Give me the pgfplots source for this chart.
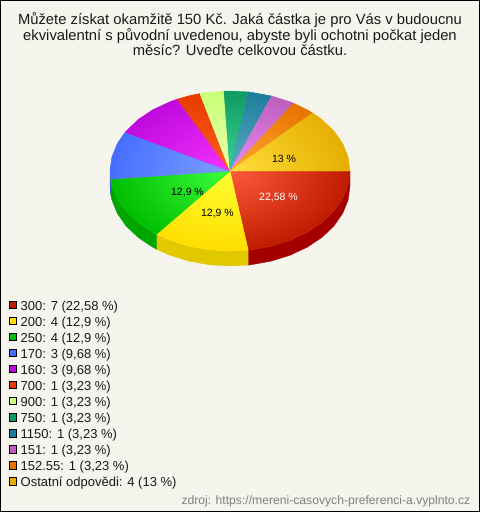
\documentclass[border=0pt]{standalone}
\usepackage{pgfplots}
\usepackage{pgfplotstable}
\pgfplotsset{compat=1.18}
\usepackage{fontspec}
\setmainfont{Liberation Sans}
\newfontfamily\legf{Liberation Sans}
\newfontfamily\ttlf{Liberation Sans}
\definecolor{bgc}{RGB}{245,245,238}
\definecolor{cA}{RGB}{190,28,0}\definecolor{cAl}{RGB}{255,90,58}\definecolor{cAs}{RGB}{165,0,0}
\definecolor{cB}{RGB}{255,222,0}\definecolor{cBl}{RGB}{255,255,50}\definecolor{cBs}{RGB}{225,200,0}
\definecolor{cC}{RGB}{0,190,0}\definecolor{cCl}{RGB}{60,255,60}\definecolor{cCs}{RGB}{0,165,0}
\definecolor{cD}{RGB}{70,110,255}\definecolor{cDl}{RGB}{125,160,255}\definecolor{cDs}{RGB}{55,95,205}
\definecolor{cE}{RGB}{190,10,220}\definecolor{cEl}{RGB}{245,50,255}
\definecolor{cF}{RGB}{232,60,0}\definecolor{cFl}{RGB}{255,92,30}
\definecolor{cG}{RGB}{200,255,120}\definecolor{cGl}{RGB}{235,255,170}
\definecolor{cH}{RGB}{15,155,95}\definecolor{cHl}{RGB}{60,210,150}
\definecolor{cI}{RGB}{30,125,155}\definecolor{cIl}{RGB}{90,175,200}
\definecolor{cJ}{RGB}{190,95,190}\definecolor{cJl}{RGB}{232,140,240}
\definecolor{cK}{RGB}{230,115,0}\definecolor{cKl}{RGB}{255,170,50}
\definecolor{cL}{RGB}{230,175,0}\definecolor{cLl}{RGB}{255,222,60}
\pgfplotstableread{
x y
230 171
350 171
348.18 184.89
342.76 198.36
333.92 211
321.93 222.42
307.13 232.28
290 240.28
271.04 246.18
250.84 249.78
248.17 250.08
}\wA
\pgfplotstableread{
x y
230 171
248.17 250.08
230 251
209.16 249.78
188.96 246.18
170 240.28
156.58 234.28
}\wB
\pgfplotstableread{
x y
230 171
156.58 234.28
152.87 232.28
138.07 222.42
126.08 211
117.24 198.36
111.82 184.89
110.62 179.13
}\wC
\pgfplotstableread{
x y
230 171
110.62 179.13
110 171
111.82 157.11
117.24 143.64
125.07 132.19
}\wD
\pgfplotstableread{
x y
230 171
125.07 132.19
138.07 119.58
152.87 109.72
170 101.72
177.14 99.18
}\wE
\pgfplotstableread{
x y
230 171
177.14 99.18
188.96 95.82
199.94 93.55
}\wF
\pgfplotstableread{
x y
230 171
199.94 93.55
209.16 92.22
223.97 91.10
}\wG
\pgfplotstableread{
x y
230 171
223.97 91.10
230 91
248.25 91.93
}\wH
\pgfplotstableread{
x y
230 171
248.25 91.93
250.84 92.22
271.79 96.01
}\wI
\pgfplotstableread{
x y
230 171
271.79 96.01
290 101.72
293.59 103.16
}\wJ
\pgfplotstableread{
x y
230 171
293.59 103.16
307.13 109.72
312.75 113.06
}\wK
\pgfplotstableread{
x y
230 171
312.75 113.06
321.93 119.58
333.92 131
342.76 143.64
348.18 157.11
350 171
}\wL
\newcommand{\pieslice}[3]{%
\addplot[draw=#2!50!#3,line width=0.3bp,fill=#2!50!#3] table[x=x,y=y] {#1};
\addplot[draw=none,shade,shading=radial,inner color=#3,outer color=#2] table[x=x,y=y] {#1} (axis cs:110,91) (axis cs:350,251);}
\newcommand{\legrow}[4]{%
\addplot[only marks,mark=square*,mark size=3.6bp,mark options={fill=#1,draw=black,line width=1bp}] coordinates {(13,#2)};
\node[anchor=base west,inner sep=0pt,text=black!90] at (axis cs:20.5,#3) {\fontsize{13bp}{16bp}\legf #4};}
\begin{document}
\begin{tikzpicture}
\begin{axis}[scale only axis,width=480bp,height=512bp,xmin=0,xmax=480,ymin=0,ymax=512,y dir=reverse,axis lines=none,clip=false]
\addplot[fill=bgc,draw=black,line width=1bp] coordinates {(0.5,0.5)(479.5,0.5)(479.5,511.5)(0.5,511.5)(0.5,0.5)};
% sides
\addplot[fill=cAs,draw=cAs,line width=0.3bp] coordinates {(350,171)(348.18,184.89)(342.76,198.36)(333.92,211)(321.93,222.42)(307.13,232.28)(290,240.28)(271.04,246.18)(250.84,249.78)(248.17,250.08)(248.17,265.08)(250.84,264.78)(271.04,261.18)(290,255.28)(307.13,247.28)(321.93,237.42)(333.92,226)(342.76,213.36)(348.18,199.89)(350,186)(350,171)};
\addplot[fill=cBs,draw=cBs,line width=0.3bp] coordinates {(248.17,250.08)(230,251)(209.16,249.78)(188.96,246.18)(170,240.28)(156.58,234.28)(156.58,249.28)(170,255.28)(188.96,261.18)(209.16,264.78)(230,266)(248.17,265.08)(248.17,250.08)};
\addplot[fill=cCs,draw=cCs,line width=0.3bp] coordinates {(156.58,234.28)(152.87,232.28)(138.07,222.42)(126.08,211)(117.24,198.36)(111.82,184.89)(110.62,179.13)(110.62,194.13)(111.82,199.89)(117.24,213.36)(126.08,226)(138.07,237.42)(152.87,247.28)(156.58,249.28)(156.58,234.28)};
\addplot[fill=cDs,draw=cDs,line width=0.3bp] coordinates {(110.62,179.13)(110,171)(110,186)(110.62,194.13)(110.62,179.13)};
\pieslice{\wA}{cA}{cAl}
\pieslice{\wB}{cB}{cBl}
\pieslice{\wC}{cC}{cCl}
\pieslice{\wD}{cD}{cDl}
\pieslice{\wE}{cE}{cEl}
\pieslice{\wF}{cF}{cFl}
\pieslice{\wG}{cG}{cGl}
\pieslice{\wH}{cH}{cHl}
\pieslice{\wI}{cI}{cIl}
\pieslice{\wJ}{cJ}{cJl}
\pieslice{\wK}{cK}{cKl}
\pieslice{\wL}{cL}{cLl}
\node[anchor=base,text=white,inner sep=0pt] at (axis cs:278.5,200) {\fontsize{10.5bp}{12bp}\selectfont 22,58 \%};
\node[anchor=base,text=black,inner sep=0pt] at (axis cs:284,162.3) {\fontsize{10.5bp}{12bp}\selectfont 13 \%};
\node[anchor=base,text=black,inner sep=0pt] at (axis cs:187.5,195) {\fontsize{10.5bp}{12bp}\selectfont 12,9 \%};
\node[anchor=base,text=black,inner sep=0pt] at (axis cs:217.5,216) {\fontsize{10.5bp}{12bp}\selectfont 12,9 \%};
\node[anchor=base,inner sep=0pt,text=black!90] at (axis cs:240,25) {\fontsize{14.8bp}{16bp}\ttlf Můžete získat okamžitě 150 Kč. Jaká částka je pro Vás v budoucnu};
\node[anchor=base,inner sep=0pt,text=black!90] at (axis cs:240,40.5) {\fontsize{14.8bp}{16bp}\ttlf ekvivalentní s původní uvedenou, abyste byli ochotni počkat jeden};
\node[anchor=base,inner sep=0pt,text=black!90] at (axis cs:240,56) {\fontsize{14.8bp}{16bp}\ttlf měsíc? Uveďte celkovou částku.};
\legrow{cA}{305}{310}{300: 7 (22,58 \%)}
\legrow{cB}{321}{326}{200: 4 (12,9 \%)}
\legrow{cC}{337}{342}{250: 4 (12,9 \%)}
\legrow{cD}{353}{358}{170: 3 (9,68 \%)}
\legrow{cE}{369}{374}{160: 3 (9,68 \%)}
\legrow{cF}{385}{390}{700: 1 (3,23 \%)}
\legrow{cG}{401}{406}{900: 1 (3,23 \%)}
\legrow{cH}{417.5}{422}{750: 1 (3,23 \%)}
\legrow{cI}{433.5}{438}{1150: 1 (3,23 \%)}
\legrow{cJ}{449.5}{454}{151: 1 (3,23 \%)}
\legrow{cK}{465.5}{470}{152.55: 1 (3,23 \%)}
\legrow{cL}{481.5}{486}{Ostatní odpovědi: 4 (13 \%)}
\node[anchor=base east,inner sep=0pt,text=black!50] at (axis cs:470.5,504) {\fontsize{12.15bp}{14bp}\selectfont zdroj: https://mereni-casovych-preferenci-a.vyplnto.cz};
\end{axis}
\end{tikzpicture}
\end{document}
